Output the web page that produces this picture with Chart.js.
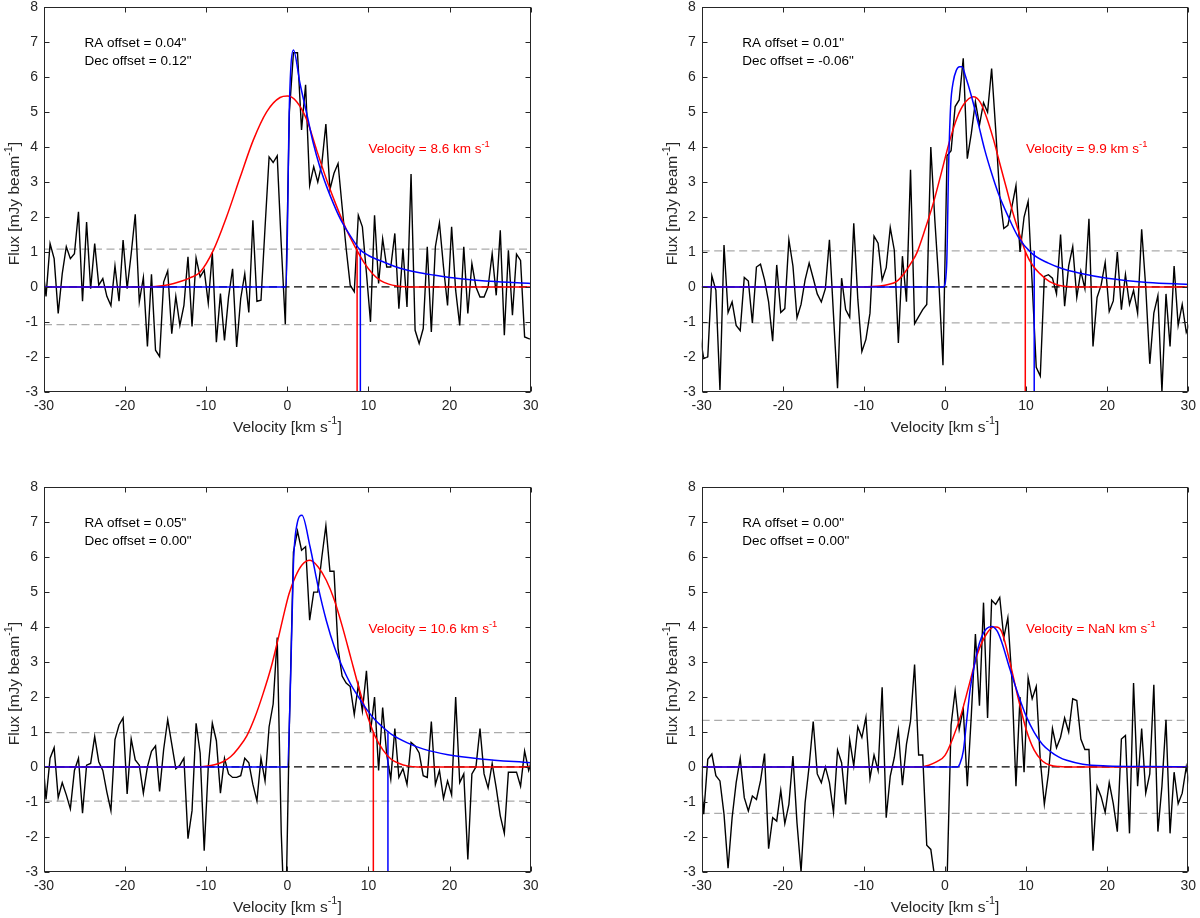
<!DOCTYPE html>
<html>
<head>
<meta charset="utf-8">
<title>Spectra</title>
<script src="https://cdn.jsdelivr.net/npm/chart.js@4.4.1/dist/chart.umd.min.js"></script>
<style>
  html, body { margin: 0; padding: 0; background: #fff; }
  body { width: 1200px; height: 918px; position: relative; overflow: hidden; }
  canvas { position: absolute; }
</style>
</head>
<body>
<canvas id="c0" width="600" height="445" style="left:0;top:-8px"></canvas>
<canvas id="c1" width="546" height="445" style="left:658px;top:-8px"></canvas>
<canvas id="c2" width="600" height="445" style="left:0;top:472px"></canvas>
<canvas id="c3" width="546" height="445" style="left:658px;top:472px"></canvas>
<script>
// axis ticks
const velocityTicks = [-30, -20, -10, 0, 10, 20, 30];
const fluxTicks = [-3, -2, -1, 0, 1, 2, 3, 4, 5, 6, 7, 8];

// spectral channels (km/s): centre of first channel and channel width
const channelStart = -30.25;
const channelWidth = 0.5;

// observed flux per channel (mJy/beam), one array per pointing
const fluxA = [
  0.78, -0.27, 1.24, 0.81, -0.76, 0.38, 1.15, 0.81, 0.95, 2.15,
  -0.41, 1.86, -0.05, 1.24, 0.05, 0.24, -0.27, -0.53, 0.60, -0.41,
  1.34, -0.05, 0.95, 2.08, -0.43, 0.27, -1.70, 0.36, -1.81, -1.99,
  0.14, 0.46, -1.34, -0.27, -1.10, -0.53, 0.86, -1.13, 0.83, 0.29,
  0.48, -0.46, 0.98, -1.58, -0.19, -1.53, -0.29, 0.52, -1.72, -0.33,
  0.38, -0.73, 1.91, -0.41, -0.38, 1.70, 3.72, 3.56, 3.75, 1.20,
  -1.07, 5.00, 6.70, 6.70, 4.49, 5.78, 2.91, 3.44, 3.00, 3.53,
  4.66, 2.79, 3.25, 3.53, 2.30, 1.10, 0.05, -0.14, 2.05, 1.72,
  0.40, -1.00, 2.05, 0.10, 1.38, 0.57, 0.57, 1.53, -0.62, 1.10,
  -0.57, 3.23, -1.24, -1.62, -1.19, 1.15, -1.29, 1.15, 1.83, 0.57,
  -0.53, 1.72, -0.10, -1.10, 1.15, -0.76, 0.67, 0.00, -0.29, -0.29,
  0.00, 0.95, -0.24, 1.62, -1.38, 1.05, -0.81, 0.94, 0.76, -1.43,
  -1.48, -1.50
];
const fluxB = [
  -1.35, -2.05, -2.00, 0.32, -0.10, -2.95, 1.20, -0.73, -0.43, -1.10,
  -1.25, 0.27, 0.17, -1.03, 0.57, 0.65, 0.20, -0.43, -1.55, 0.63,
  -0.73, -0.62, 1.35, 0.60, -0.88, -0.50, 0.20, 0.68, 0.25, -0.20,
  -0.43, -0.05, 1.35, -0.80, -2.90, 0.25, -0.65, -0.87, 1.82, -0.35,
  -1.85, -1.50, -0.75, 1.45, 1.25, 0.20, 0.55, 1.70, 1.05, -1.60,
  0.88, -0.42, 3.35, -1.05, -0.85, -0.65, -0.50, 4.00, 1.90, 0.10,
  -2.24, 3.75, 3.90, 5.16, 5.35, 6.54, 3.67, 4.40, 5.30, 4.63,
  5.27, 5.00, 6.25, 4.50, 2.60, 1.67, 1.76, 2.30, 2.90, 1.00,
  2.00, 2.45, 0.10, -2.30, -2.55, 0.30, 0.35, 0.25, -0.20, 1.50,
  -0.55, 0.60, 1.15, -0.30, 0.45, -0.05, 1.95, -1.70, -0.30, 0.05,
  0.70, -0.70, -0.40, 1.00, -0.65, 0.35, -0.50, -0.10, -0.75, 1.65,
  0.00, -2.20, -0.75, -0.25, -3.00, -0.20, -1.70, 0.60, -1.10, -0.50,
  -1.30, -1.00
];
const fluxC = [
  0.53, -0.93, 0.25, 0.55, -0.88, -0.45, -0.80, -1.20, -0.10, 0.25,
  -1.32, 0.05, 0.10, 0.87, 0.15, -0.10, -0.72, -1.25, 0.78, 1.20,
  1.40, -0.77, 0.80, 0.20, 0.05, -0.75, 0.00, 0.45, 0.60, -0.70,
  0.50, 1.35, 0.65, -0.05, 0.05, 0.25, -2.05, -1.25, 1.25, 0.40,
  -2.40, 0.00, 1.25, 0.75, -0.75, 0.25, -0.20, -0.30, -0.30, -0.25,
  0.25, 0.12, -0.50, -0.97, 0.25, -0.40, 1.15, 1.80, 3.70, -1.90,
  -5.00, 1.20, 6.15, 6.75, 6.20, 6.30, 4.20, 5.00, 5.00, 6.00,
  6.90, 5.60, 5.60, 3.40, 2.60, 2.40, 2.30, 1.50, 2.35, 1.60,
  2.75, 1.00, 2.00, -0.10, 1.70, 0.35, -0.35, 1.10, -0.30, -0.05,
  -0.50, 0.70, 0.60, 0.40, -0.25, -0.30, 1.30, -0.50, -0.10, -0.90,
  -0.40, -0.80, 2.00, -0.45, -0.20, -2.65, -0.20, 0.00, 1.10, -0.20,
  -0.60, 0.10, -0.60, -1.40, -1.90, -0.15, -0.15, -0.15, -0.55, 0.45,
  -0.10, 0.30
];
const fluxD = [
  0.28, -1.35, 0.22, 0.37, -0.25, -0.40, -1.35, -2.90, -1.45, -0.45,
  0.25, -0.88, -1.26, -0.83, -0.93, -0.40, 0.38, -2.34, -1.45, -1.55,
  -0.67, -1.62, -1.07, 0.31, -1.60, -3.00, -1.02, 0.03, 1.30, -0.20,
  -0.45, 0.00, -0.45, -1.30, 0.48, 0.12, -1.07, 0.77, 0.03, 1.15,
  0.84, 1.42, -0.33, 0.34, -0.10, 2.28, -1.45, -0.26, 0.27, 1.05,
  -0.52, 0.65, 1.32, 2.93, 0.34, 0.34, -2.24, -2.36, -3.20, -3.50,
  -3.50, -3.30, 1.20, 2.18, 1.08, 1.67, -0.55, 1.50, 3.80, 1.75,
  4.70, 1.40, 4.77, 4.65, 4.85, 3.70, 4.27, 2.50, -0.55, 2.00,
  -0.15, 2.55, 1.95, 2.30, 0.20, -1.07, -0.20, 1.10, 0.55, 0.85,
  1.40, 1.00, 1.95, 1.90, 0.80, 0.50, 0.50, -2.40, -0.55, -0.85,
  -1.30, -0.45, -1.05, -1.85, 0.80, 0.90, -1.90, 2.40, -0.55, 1.10,
  -0.75, -0.20, 2.35, -1.85, -0.55, 1.35, -1.90, -0.15, -1.05, -0.75,
  0.00, -0.60
];

// gaussian fits (red), [velocity, flux]
const gaussA = [[-30,0],[-17,0],[-16,0.02],[-15,0.05],[-14,0.1],[-13,0.17],[-12,0.26],[-10.8,0.41],[-9.1,1.06],[-7.5,2.0],[-5.8,3.15],[-4.2,4.2],[-2.55,5.01],[-0.9,5.42],[0,5.46],[1.15,5.3],[2.4,4.78],[3.6,3.92],[4.85,3.06],[6.1,2.29],[7.3,1.63],[8.55,1.06],[9.5,0.68],[10.5,0.38],[11.5,0.18],[12.5,0.08],[13.5,0.03],[15,0],[30,0]];
const gaussB = [[-30,0],[-10,0],[-9,0.01],[-8,0.03],[-7,0.07],[-6,0.15],[-5,0.4],[-4,0.75],[-3.5,0.96],[-2.5,1.62],[-1.45,2.39],[-0.5,3.22],[0.6,4.2],[1.5,4.85],[2.3,5.22],[3.5,5.44],[4.3,5.3],[5.1,4.87],[6,4.2],[6.75,3.54],[7.6,2.8],[8.4,2.1],[9.2,1.5],[10,0.96],[10.8,0.62],[11.7,0.38],[12.9,0.15],[14,0.05],[15,0.01],[16,0],[30,0]];
const gaussC = [[-30,0],[-11,0],[-10,0.02],[-9,0.06],[-8,0.14],[-7,0.29],[-6,0.55],[-5,0.89],[-4,1.42],[-3,2.09],[-2,2.85],[-1.2,3.6],[-0.5,4.3],[0.2,4.95],[1,5.45],[1.8,5.78],[2.8,5.91],[3.8,5.72],[4.8,5.34],[5.8,4.77],[6.8,4.0],[7.8,3.14],[8.8,2.28],[9.8,1.51],[10.8,0.89],[11.8,0.48],[12.8,0.22],[13.8,0.1],[14.8,0.03],[16,0],[30,0]];
const gaussD = [[-30,0],[-3,0],[-2,0.05],[-1,0.15],[0,0.33],[1,0.84],[2,1.51],[3,2.37],[4,3.23],[5,3.76],[6,4.0],[6.3,4.0],[7,3.86],[8,3.0],[9,1.99],[10,1.08],[11,0.48],[12,0.17],[13,0.05],[14,0.01],[15,0],[30,0]];

// skewed fits (blue), [velocity, flux]
const skewA = [[-30,0],[-0.15,0],[0.25,5.2],[0.75,6.78],[1.56,5.82],[2.38,4.97],[3.2,4.11],[4,3.44],[4.85,2.87],[5.67,2.39],[6.5,1.96],[7.3,1.63],[8.1,1.34],[8.9,1.08],[10,0.9],[12,0.7],[14,0.53],[16,0.42],[18,0.34],[20,0.27],[22,0.22],[25,0.16],[30,0.1]];
const skewB = [[-30,0],[-0.2,0],[0.2,0.6],[0.45,3.5],[0.7,5.2],[1,5.85],[1.4,6.2],[1.8,6.3],[2.1,6.3],[2.5,6.05],[3.28,5.44],[4.1,4.68],[4.9,3.92],[5.75,3.25],[6.57,2.68],[7.8,2.01],[9,1.44],[10.7,0.96],[12.75,0.68],[14.5,0.52],[16.5,0.4],[20,0.25],[25,0.13],[30,0.07]];
const skewC = [[-30,0],[0,0],[0.4,2.5],[0.75,5.8],[1.2,6.95],[1.8,7.2],[2.8,6.3],[3.8,5.15],[4.8,4.19],[5.8,3.43],[6.8,2.85],[7.8,2.37],[8.8,1.99],[9.8,1.64],[10.8,1.35],[11.8,1.13],[12.8,0.94],[14.8,0.69],[16.8,0.51],[19.8,0.35],[23.8,0.23],[30,0.12]];
const skewD = [[-30,0],[1.5,0],[1.85,0.1],[2.26,0.46],[2.67,1.32],[3.08,2.18],[3.5,2.76],[4,3.33],[4.5,3.71],[5.1,3.95],[5.75,4.02],[6.4,3.9],[7,3.57],[8,2.8],[9,2.09],[10,1.46],[11,0.99],[12,0.65],[13,0.44],[14,0.29],[15,0.19],[17,0.08],[20,0.03],[25,0.01],[30,0]];

// noise level (1 sigma) and offsets of each pointing
const noise = [1.08, 1.03, 0.98, 1.33];
const raOffset = ['0.04', '0.01', '0.05', '0.00'];
const decOffset = ['0.12', '-0.06', '0.00', '0.00'];
const fitVelocity = ['8.6', '9.9', '10.6', 'NaN'];
// where each fit drops below the noise (null = no crossing)
const redCut = [8.6, 9.9, 10.6, null];
const blueCut = [9.0, 11.0, 12.4, null];

const fluxes = [fluxA, fluxB, fluxC, fluxD];
const gauss = [gaussA, gaussB, gaussC, gaussD];
const skew = [skewA, skewB, skewC, skewD];

const FONT = '"Liberation Sans", Arial, Helvetica, sans-serif';
const AXIS = '#262626';
const DASH = [8, 4.5];

function xy(pairs) {
  return pairs.map(([x, y]) => ({ x, y }));
}

function spectrum(flux) {
  return flux.map((y, i) => ({ x: channelStart + i * channelWidth, y }));
}

function line(data, color, width, extra) {
  return Object.assign({
    data, borderColor: color, borderWidth: width,
    pointRadius: 0, pointHoverRadius: 0, fill: false, tension: 0
  }, extra || {});
}

// text with a superscript part; parts = [[text, isSup], ...]
function supText(ctx, parts, x, y, size, align) {
  const widths = parts.map(([t, sup]) => {
    ctx.font = (sup ? size * 0.7 : size) + 'px ' + FONT;
    return ctx.measureText(t).width;
  });
  const total = widths.reduce((a, b) => a + b, 0);
  let cx = align === 'center' ? x - total / 2 : x;
  ctx.textAlign = 'left';
  ctx.textBaseline = 'middle';
  parts.forEach(([t, sup], i) => {
    ctx.font = (sup ? size * 0.7 : size) + 'px ' + FONT;
    ctx.fillText(t, cx, sup ? y - size * 0.4 : y);
    cx += widths[i];
  });
}

const decor = {
  id: 'decor',
  afterDatasetsDraw(chart, args, o) {
    const { ctx, chartArea: a, scales: { x, y } } = chart;
    ctx.save();
    // box and inward ticks
    ctx.strokeStyle = AXIS;
    ctx.lineWidth = 1;
    const L = Math.round(a.left) + 0.5, R = Math.round(a.right) - 0.5;
    const T = Math.round(a.top) + 0.5, B = Math.round(a.bottom) - 0.5;
    ctx.strokeRect(L, T, R - L, B - T);
    ctx.beginPath();
    velocityTicks.forEach(v => {
      const px = Math.round(x.getPixelForValue(v)) + 0.5;
      ctx.moveTo(px, B); ctx.lineTo(px, B - 5);
      ctx.moveTo(px, T); ctx.lineTo(px, T + 5);
    });
    fluxTicks.forEach(f => {
      const py = Math.round(y.getPixelForValue(f)) + 0.5;
      ctx.moveTo(L, py); ctx.lineTo(L + 5, py);
      ctx.moveTo(R, py); ctx.lineTo(R - 5, py);
    });
    ctx.stroke();

    // annotations
    ctx.fillStyle = '#000';
    ctx.font = '13.5px ' + FONT;
    ctx.textAlign = 'left';
    ctx.textBaseline = 'middle';
    const ax = x.getPixelForValue(-25);
    ctx.fillText('RA offset = ' + o.ra + '"', ax, y.getPixelForValue(6.97));
    ctx.fillText('Dec offset = ' + o.dec + '"', ax, y.getPixelForValue(6.46));
    ctx.fillStyle = '#ff0000';
    supText(ctx, [['Velocity = ' + o.vel + ' km s', false], ['-1', true]],
      x.getPixelForValue(10), y.getPixelForValue(3.93), 13.5, 'left');

    // axis titles
    ctx.fillStyle = AXIS;
    supText(ctx, [['Velocity [km s', false], ['-1', true], [']', false]],
      (a.left + a.right) / 2, a.bottom + 35.7, 15.5, 'center');
    ctx.translate(a.left - 29, (a.top + a.bottom) / 2 + 4);
    ctx.rotate(-Math.PI / 2);
    supText(ctx, [['Flux [mJy beam', false], ['-1', true], [']', false]],
      0, 0, 15.5, 'center');
    ctx.restore();
  }
};

function scale(ticks, min, max, fit) {
  return {
    type: 'linear', min, max,
    afterBuildTicks: s => { s.ticks = ticks.map(value => ({ value })); },
    afterFit: fit,
    grid: { display: false, drawTicks: false },
    border: { display: false },
    ticks: { color: AXIS, font: { family: FONT, size: 14 }, padding: 6, autoSkip: false, maxRotation: 0 }
  };
}

// canvas layout: plot boxes 486.6 x 384.5 px
const frames = [
  { yWidth: 44, rightPad: 69.3 },
  { yWidth: 43.7, rightPad: 15.7 },
  { yWidth: 44, rightPad: 69.3 },
  { yWidth: 43.7, rightPad: 15.7 }
];

frames.forEach((fr, i) => {
  // first dataset is drawn on top
  const datasets = [
    line(xy(skew[i]), '#0000ff', 1.5, { cubicInterpolationMode: 'monotone' }),
    line(xy(gauss[i]), '#ff0000', 1.5, { cubicInterpolationMode: 'monotone' })
  ];
  if (blueCut[i] !== null) datasets.push(line(xy([[blueCut[i], -3], [blueCut[i], noise[i]]]), '#0000ff', 1.5));
  if (redCut[i] !== null) datasets.push(line(xy([[redCut[i], -3], [redCut[i], noise[i]]]), '#ff0000', 1.5));
  datasets.push(line(spectrum(fluxes[i]), '#000000', 1.4));
  datasets.push(line(xy([[-30, 0], [30, 0]]), '#000000', 1.2, { borderDash: DASH }));
  datasets.push(line(xy([[-30, noise[i]], [30, noise[i]]]), '#ababab', 1.2, { borderDash: DASH }));
  datasets.push(line(xy([[-30, -noise[i]], [30, -noise[i]]]), '#ababab', 1.2, { borderDash: DASH }));

  new Chart(document.getElementById('c' + i), {
    type: 'scatter',
    data: { datasets: datasets.map(d => Object.assign(d, { showLine: true })) },
    options: {
      responsive: false,
      animation: false,
      events: [],
      layout: { padding: { top: 15.3, left: 0, right: fr.rightPad, bottom: 0 } },
      scales: {
        x: scale(velocityTicks, -30, 30, s => { s.height = 45.2; }),
        y: scale(fluxTicks, -3, 8, s => { s.width = fr.yWidth; })
      },
      plugins: {
        legend: { display: false },
        tooltip: { enabled: false },
        decor: { ra: raOffset[i], dec: decOffset[i], vel: fitVelocity[i] }
      }
    },
    plugins: [decor]
  });
});
</script>
</body>
</html>
